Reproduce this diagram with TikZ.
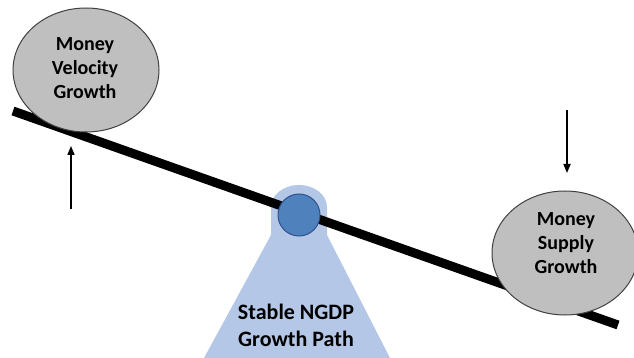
\documentclass[tikz,border=0pt]{standalone}
\usepackage{fontspec}
\setmainfont{Carlito}
\usetikzlibrary{shapes.geometric,arrows.meta}
\definecolor{ballgray}{HTML}{BFBFBF}
\definecolor{balledge}{HTML}{404040}
\definecolor{standblue}{HTML}{B4C7E7}
\definecolor{pivotblue}{HTML}{4F81BD}
\definecolor{pivotedge}{HTML}{2F528F}
\begin{document}
\begin{tikzpicture}[x=1pt,y=-1pt,
  ball/.style={ellipse,draw=balledge,fill=ballgray,line width=1pt,
    minimum width=146pt,minimum height=124pt,inner sep=0pt},
  balltext/.style={align=center,font=\bfseries\fontsize{20}{24}\selectfont},
  push/.style={-{Triangle[length=9pt,width=7pt]},line width=1.6pt},
  label/.style={align=center,font=\bfseries\fontsize{22}{27}\selectfont}]
\useasboundingbox (0,0) rectangle (634,358);
% stand under the beam: domed column widening into a base
\fill[standblue] (271,235) -- (271,207) arc[start angle=180,end angle=360,x radius=28,y radius=22]
  -- (327,235) -- (390,358) -- (204,358) -- cycle;
% beam
\coordinate (beamL) at (13,111);
\coordinate (beamR) at (618,325);
\draw[line width=9pt] (beamL) -- (beamR);
% pivot
\node[circle,draw=pivotedge,fill=pivotblue,line width=1pt,minimum size=42pt,inner sep=0pt] (pivot) at (299,215) {};
% weights
\node[ball] (vel) at (86,70) {};
\node[balltext] (veltext) at (85,68) {Money\\Velocity\\Growth};
\node[ball] (sup) at (565,253) {};
\node[balltext] (suptext) at (566,243) {Money\\Supply\\Growth};
% arrows
\coordinate (upS) at (71,209);
\coordinate (upE) at (71,146);
\draw[push] (upS) -- (upE);
\coordinate (dnS) at (567,110);
\coordinate (dnE) at (567,173);
\draw[push] (dnS) -- (dnE);
\node[label] (path) at (296,325) {Stable NGDP\\Growth Path};
\end{tikzpicture}
\end{document}
